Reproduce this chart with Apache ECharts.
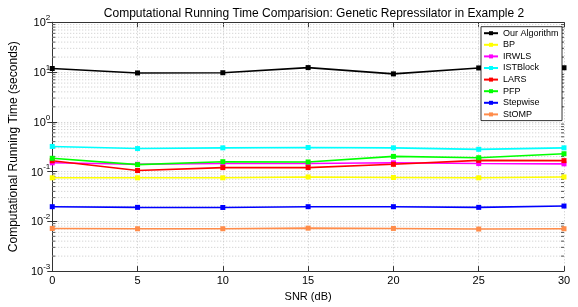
<!DOCTYPE html>
<html>
<head>
<meta charset="utf-8">
<script src="https://cdn.jsdelivr.net/npm/echarts@6/dist/echarts.min.js"></script>
<style>
html,body{margin:0;padding:0;background:#fff;}
#chart{width:578px;height:307px;}
</style>
</head>
<body>
<div id="chart"></div>
<script>
const snr = [0, 5, 10, 15, 20, 25, 30];
const seriesNames = ['Our Algorithm', 'BP', 'IRWLS', 'ISTBlock', 'LARS', 'PFP', 'Stepwise', 'StOMP'];
const ourAlgorithm = [11.8, 9.6, 9.7, 12.3, 9.2, 12.1, 12.2];
const bp = [0.075, 0.075, 0.075, 0.078, 0.076, 0.075, 0.078];
const irwls = [0.15, 0.14, 0.145, 0.145, 0.15, 0.145, 0.143];
const istBlock = [0.32, 0.29, 0.30, 0.305, 0.30, 0.28, 0.30];
const lars = [0.165, 0.105, 0.12, 0.12, 0.14, 0.168, 0.166];
const pfp = [0.185, 0.138, 0.158, 0.156, 0.202, 0.19, 0.228];
const stepwise = [0.0197, 0.0191, 0.019, 0.0197, 0.0197, 0.0191, 0.0203];
const stomp = [0.0072, 0.0071, 0.0071, 0.0073, 0.0072, 0.007, 0.0071];
const xTicks = [0, 5, 10, 15, 20, 25, 30];
const yTickExponents = [-3, -2, -1, 0, 1, 2];

const colors = ['#000000', '#ffff00', '#ff00ff', '#00ffff', '#ff0000', '#00ff00', '#0000ff', '#ff8c4a'];
const values = [ourAlgorithm, bp, irwls, istBlock, lars, pfp, stepwise, stomp];

// minor log grid positions (2..9 per decade)
const minorGrid = [];
for (let e = yTickExponents[0]; e < yTickExponents[yTickExponents.length - 1]; e++) {
  for (let m = 2; m <= 9; m++) minorGrid.push([0, m * Math.pow(10, e)]);
}

const chart = echarts.init(document.getElementById('chart'), null, {renderer: 'canvas'});
const font = 'Liberation Sans, Arial, Helvetica, sans-serif';

const lineSeries = seriesNames.map((n, i) => ({
  name: n,
  type: 'line',
  data: snr.map((x, j) => [x, values[i][j]]),
  xAxisIndex: 0,
  yAxisIndex: 0,
  symbol: 'rect',
  symbolSize: 5,
  showSymbol: true,
  lineStyle: {color: colors[i], width: 1.6},
  itemStyle: {color: colors[i]},
  animation: false,
  z: 2
}));

const minorSeries = {
  type: 'custom',
  name: 'minorgrid',
  xAxisIndex: 0,
  yAxisIndex: 0,
  silent: true,
  animation: false,
  z: 1,
  data: minorGrid,
  encode: {x: 0, y: 1},
  renderItem: function (params, api) {
    const y = api.coord([0, api.value(1)])[1];
    const cs = params.coordSys;
    return {
      type: 'group',
      children: [
        {type: 'line', shape: {x1: cs.x, y1: y, x2: cs.x + cs.width, y2: y},
         style: {stroke: '#c8c8c8', lineWidth: 1, lineDash: [1, 2]}},
        {type: 'line', shape: {x1: cs.x, y1: y, x2: cs.x + 3, y2: y},
         style: {stroke: '#555', lineWidth: 1}},
        {type: 'line', shape: {x1: cs.x + cs.width - 3, y1: y, x2: cs.x + cs.width, y2: y},
         style: {stroke: '#555', lineWidth: 1}}
      ]
    };
  }
};

const axisLineStyle = {show: true, lineStyle: {color: '#333', width: 1}};

const option = {
  backgroundColor: '#fff',
  animation: false,
  title: {
    text: 'Computational Running Time Comparision: Genetic Repressilator in Example 2',
    left: 309,
    textAlign: 'center',
    top: 3,
    textStyle: {fontFamily: font, fontSize: 12, fontWeight: 'normal', color: '#000'}
  },
  grid: {left: 49.3, right: 14, top: 22.3, bottom: 30, containLabel: false},
  legend: {
    data: seriesNames,
    orient: 'vertical',
    left: 481,
    top: 26.7,
    z: 10,
    padding: [1, 3.5, 0.7, 2],
    itemGap: 0.6,
    itemWidth: 14,
    itemHeight: 5,
    backgroundColor: '#fff',
    borderColor: '#000',
    borderWidth: 0.8,
    textStyle: {fontFamily: font, fontSize: 9, color: '#000', lineHeight: 11},
    selectedMode: false
  },
  xAxis: [
    {
      type: 'value', min: 0, max: 30, interval: 5, position: 'bottom',
      axisLine: axisLineStyle,
      axisTick: {show: true, inside: true, length: 5, lineStyle: {color: '#333'}},
      axisLabel: {fontFamily: font, fontSize: 11, color: '#000', margin: 4,
        customValues: xTicks},
      splitLine: {show: true, lineStyle: {color: '#c8c8c8', type: [1, 2], width: 1}},
      name: 'SNR (dB)', nameLocation: 'middle', nameGap: 15,
      nameTextStyle: {fontFamily: font, fontSize: 11, color: '#000'}
    },
    {
      type: 'value', min: 0, max: 30, interval: 5, position: 'top',
      axisLine: axisLineStyle,
      axisTick: {show: true, inside: true, length: 5, lineStyle: {color: '#333'}},
      axisLabel: {show: false},
      splitLine: {show: false}
    }
  ],
  yAxis: [
    {
      type: 'log', logBase: 10, min: 0.001, max: 100, position: 'left',
      axisLine: axisLineStyle,
      axisTick: {show: true, inside: true, length: 5, lineStyle: {color: '#333'}},
      axisLabel: {
        margin: 2,
        padding: [0, 0, 2, 0],
        formatter: function (v) {
          const e = Math.round(Math.log10(v));
          return '{b|10}{e|' + e + '}';
        },
        rich: {
          b: {fontFamily: font, fontSize: 11, color: '#000', lineHeight: 15, verticalAlign: 'bottom'},
          e: {fontFamily: font, fontSize: 8, color: '#000', verticalAlign: 'top', lineHeight: 15}
        }
      },
      splitLine: {show: true, lineStyle: {color: '#c8c8c8', type: [1, 2], width: 1}},
      minorTick: {show: false},
      name: 'Computational Running Time (seconds)', nameLocation: 'middle', nameGap: 21,
      nameTextStyle: {fontFamily: font, fontSize: 12, color: '#000'}
    },
    {
      type: 'log', logBase: 10, min: 0.001, max: 100, position: 'right',
      axisLine: axisLineStyle,
      axisTick: {show: true, inside: true, length: 5, lineStyle: {color: '#333'}},
      axisLabel: {show: false},
      splitLine: {show: false}
    }
  ],
  series: [minorSeries].concat(lineSeries)
};
chart.setOption(option);
</script>
</body>
</html>
